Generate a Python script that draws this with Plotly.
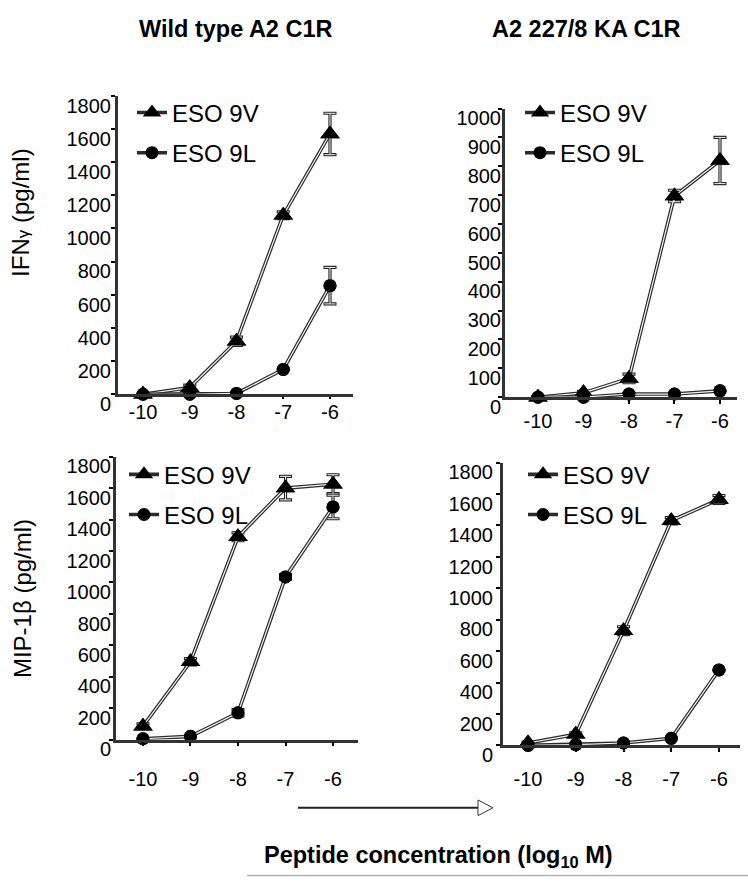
import plotly.graph_objects as go

# ---------------- data ----------------
log_conc = [-10, -9, -8, -7, -6]
xtick_labels = ["-10", "-9", "-8", "-7", "-6"]
series_names = ["ESO 9V", "ESO 9L"]

ifn_wt_9v = [0, 40, 320, 1080, 1570]
ifn_wt_9v_err = [0, 15, 25, 20, 125]
ifn_wt_9l = [0, 0, 5, 150, 655]
ifn_wt_9l_err = [0, 0, 0, 0, 110]

ifn_ka_9v = [0, 15, 65, 697, 820]
ifn_ka_9v_err = [0, 5, 15, 20, 80]
ifn_ka_9l = [0, 0, 11, 11, 22]
ifn_ka_9l_err = [0, 0, 0, 0, 0]

mip_wt_9v = [85, 495, 1290, 1600, 1625]
mip_wt_9v_err = [15, 20, 25, 75, 60]
mip_wt_9l = [5, 20, 170, 1035, 1480]
mip_wt_9l_err = [0, 0, 20, 15, 75]

mip_ka_9v = [15, 70, 730, 1430, 1565]
mip_ka_9v_err = [5, 10, 25, 20, 25]
mip_ka_9l = [0, 5, 15, 45, 480]
mip_ka_9l_err = [0, 0, 0, 0, 0]

ticks_1800 = [0, 200, 400, 600, 800, 1000, 1200, 1400, 1600, 1800]
ticks_1000 = [0, 100, 200, 300, 400, 500, 600, 700, 800, 900, 1000]

# ---------------- geometry ----------------
W, H = 748, 889
FONT = "Liberation Sans, Arial, sans-serif"


def px(x):
    return x / W


def py(y):
    return 1 - y / H


panels = [
    dict(box=(118, 353, 87, 393), xr=(-10.535, -5.508), ticks=ticks_1800,
         v=(ifn_wt_9v, ifn_wt_9v_err), l=(ifn_wt_9l, ifn_wt_9l_err),
         leg=(132, 125), xstand=-4, xlen=2, ystand=7),
    dict(box=(505, 737, 100, 396), xr=(-10.725, -5.626), ticks=ticks_1000,
         v=(ifn_ka_9v, ifn_ka_9v_err), l=(ifn_ka_9l, ifn_ka_9l_err),
         leg=(520, 125), xstand=0, xlen=4, ystand=4),
    dict(box=(116, 358, 457, 747), xr=(-10.568, -5.474), ticks=ticks_1800,
         v=(mip_wt_9v, mip_wt_9v_err), l=(mip_wt_9l, mip_wt_9l_err),
         leg=(124, 496), xstand=16, xlen=4, ystand=5),
    dict(box=(503, 740, 463, 753), xr=(-10.524, -5.56), ticks=ticks_1800,
         v=(mip_ka_9v, mip_ka_9v_err), l=(mip_ka_9l, mip_ka_9l_err),
         leg=(523, 496), xstand=10, xlen=4, ystand=10),
]

fig = go.Figure()
layout = dict(
    width=W, height=H, autosize=False,
    margin=dict(l=0, r=0, t=0, b=0),
    paper_bgcolor="white", plot_bgcolor="rgba(0,0,0,0)",
    font=dict(family=FONT, color="black"),
    showlegend=True,
)

for i, p in enumerate(panels, start=1):
    xid = "x" if i == 1 else f"x{i}"
    yid = "y" if i == 1 else f"y{i}"
    ylab = f"y{i + 4}"
    legid = "legend" if i == 1 else f"legend{i}"
    l, r, t, b = p["box"]
    ymax = p["ticks"][-1]

    for k, (name, (vals, errs), sym, size) in enumerate((
        (series_names[0], p["v"], "triangle-up", 17),
        (series_names[1], p["l"], "circle", 13),
    )):
        grp = f"p{i}s{k}"
        # dark outer stroke (line + error bars), shown in legend
        fig.add_trace(go.Scatter(
            x=log_conc, y=vals, mode="lines+markers", name=name,
            line=dict(color="#2b2b2b", width=3.6),
            marker=dict(symbol=sym, size=size, color="black"),
            error_y=dict(type="data", array=errs, visible=True,
                         color="#222222", thickness=3.2, width=6.5),
            xaxis=xid, yaxis=yid, legend=legid, legendgroup=grp,
            cliponaxis=False, hoverinfo="skip"))
        # light inner stroke -> "double line" look of the original
        fig.add_trace(go.Scatter(
            x=log_conc, y=vals, mode="lines",
            line=dict(color="#f4f4f4", width=1.2),
            error_y=dict(type="data", array=errs, visible=True,
                         color="#f4f4f4", thickness=1.0, width=5.5),
            xaxis=xid, yaxis=yid, showlegend=False, legendgroup=grp,
            cliponaxis=False, hoverinfo="skip"))
        # markers on top
        fig.add_trace(go.Scatter(
            x=log_conc, y=vals, mode="markers",
            marker=dict(symbol=sym, size=size, color="black"),
            xaxis=xid, yaxis=yid, showlegend=False, legendgroup=grp,
            cliponaxis=False, hoverinfo="skip"))

    # invisible anchor trace for the tick-label axis
    fig.add_trace(go.Scatter(
        x=[log_conc[0]], y=[p["ticks"][0]], mode="markers",
        marker=dict(opacity=0), xaxis=xid, yaxis=ylab,
        showlegend=False, hoverinfo="skip"))

    xkey = "xaxis" if i == 1 else f"xaxis{i}"
    ykey = "yaxis" if i == 1 else f"yaxis{i}"
    layout[xkey] = dict(
        domain=[px(l), px(r)], range=list(p["xr"]), anchor=yid,
        tickmode="array", tickvals=log_conc, ticktext=xtick_labels,
        ticks="outside", ticklen=p["xlen"], tickcolor="black", tickwidth=1.5,
        showline=True, linecolor="#333333", linewidth=2.5,
        showgrid=False, zeroline=False,
        tickfont=dict(size=20, family=FONT, color="black"),
        ticklabelstandoff=p["xstand"], fixedrange=True)
    layout[ykey] = dict(
        domain=[py(b), py(t)], range=[0, ymax], anchor=xid,
        tickmode="array", tickvals=p["ticks"], showticklabels=False,
        ticks="outside", ticklen=4, tickcolor="black", tickwidth=1.5,
        showline=True, linecolor="#333333", linewidth=2.5,
        showgrid=False, zeroline=False, fixedrange=True)
    layout[f"yaxis{i + 4}"] = dict(
        domain=[py(b + 10), py(t + 10)], range=[0, ymax],
        anchor="free", position=px(l),
        tickmode="array", tickvals=p["ticks"],
        ticktext=[str(v) for v in p["ticks"]],
        ticks="", showline=False, showgrid=False, zeroline=False,
        tickfont=dict(size=20, family=FONT, color="black"),
        ticklabelstandoff=p["ystand"], fixedrange=True)
    layout[legid] = dict(
        x=px(p["leg"][0]), y=py(p["leg"][1]), xanchor="left", yanchor="middle",
        bgcolor="rgba(0,0,0,0)", borderwidth=0, itemwidth=30,
        traceorder="grouped", tracegroupgap=6,
        font=dict(size=24, family=FONT, color="black"),
        itemclick=False, itemdoubleclick=False)

annotations = [
    dict(text="<b>Wild type A2 C1R</b>", x=px(236), y=py(18),
         font=dict(size=23.5)),
    dict(text="<b>A2 227/8 KA C1R</b>", x=px(586), y=py(18),
         font=dict(size=23.5)),
    dict(text="IFN<span style='font-size:17px'>γ</span> (pg/ml)",
         x=px(21), y=py(207), textangle=-90, font=dict(size=24)),
    dict(text="MIP-1β (pg/ml)", x=px(22), y=py(603), textangle=-90,
         font=dict(size=24)),
    dict(text="<b>Peptide concentration (log<sub>10</sub> M)</b>",
         x=px(438), y=py(867), font=dict(size=23.5)),
]
for a in annotations:
    a.update(xref="paper", yref="paper", showarrow=False,
             xanchor="center", yanchor="middle")
    a["font"].update(family=FONT, color="black")
layout["annotations"] = annotations

layout["shapes"] = [
    dict(type="line", xref="paper", yref="paper",
         x0=px(298), x1=px(478), y0=py(817), y1=py(817),
         line=dict(color="#222", width=2)),
    dict(type="path", xref="paper", yref="paper",
         path=f"M {px(478)} {py(809)} L {px(493)} {py(817)} L {px(478)} {py(825)} Z",
         fillcolor="white", line=dict(color="#333", width=1)),
    dict(type="line", xref="paper", yref="paper",
         x0=px(247), x1=px(748), y0=py(886.5), y1=py(886.5),
         line=dict(color="#b0b0b0", width=1.5)),
]

fig.update_layout(**layout)
fig.write_html(
    "out.html",
    config={"displayModeBar": False, "staticPlot": False},
    post_script="document.body.style.margin='0';document.body.style.overflow='hidden';",
)
